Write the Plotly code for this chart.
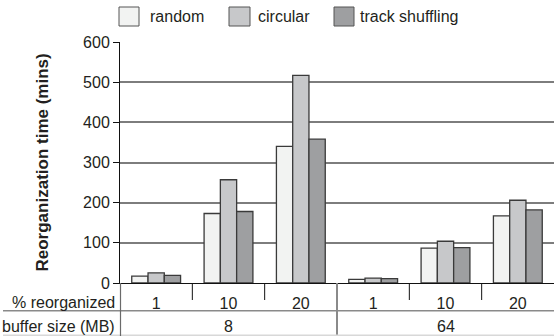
import plotly.graph_objects as go

# ---- data ----
buffer_sizes = ["8", "64"]
pct_reorganized = ["1", "10", "20"]
series_names = ["random", "circular", "track shuffling"]
random_vals = [17, 173, 340, 9, 87, 167]
circular_vals = [25, 257, 517, 12, 104, 206]
track_vals = [19, 178, 358, 11, 88, 182]
y_ticks = [0, 100, 200, 300, 400, 500, 600]

categories = [f"{b} MB | {p}%" for b in buffer_sizes for p in pct_reorganized]
tick_text = [p for b in buffer_sizes for p in pct_reorganized]

colors = ["#f2f3f2", "#c7c8ca", "#9e9fa1"]
FONT = "Liberation Sans, Arial, sans-serif"
TXT = "#231f20"

W, H = 554, 336
ML, MR, MT, MB = 120, 0, 42, 53
PW, PH = W - ML - MR, H - MT - MB


def px(x):
    return (x - ML) / PW


def py(y):
    return (H - MB - y) / PH


fig = go.Figure()
for name, vals, col in zip(series_names, [random_vals, circular_vals, track_vals], colors):
    fig.add_trace(go.Bar(
        x=categories, y=vals, name=name,
        marker=dict(color=col, line=dict(color="#3a3a3a", width=1.3)),
        showlegend=False,
    ))

shapes = []
annotations = []

# custom legend
leg_boxes = [(119, 139), (229, 250), (334, 354)]
leg_text_x = [148, 256, 358]
for (x0, x1), tx, name, col in zip(leg_boxes, leg_text_x, series_names, colors):
    shapes.append(dict(type="rect", xref="paper", yref="paper",
                       x0=px(x0), x1=px(x1), y0=py(26), y1=py(7),
                       fillcolor=col, line=dict(color="#555555", width=1)))
    annotations.append(dict(xref="paper", yref="paper", x=px(tx), y=py(16.5),
                            text=name, showarrow=False, xanchor="left", yanchor="middle",
                            font=dict(family=FONT, size=16, color=TXT)))

# y axis title
annotations.append(dict(xref="paper", yref="paper", x=px(41.5), y=py(163),
                        text="<b>Reorganization time (mins)</b>", textangle=-90,
                        showarrow=False, xanchor="center", yanchor="middle",
                        font=dict(family=FONT, size=17, color=TXT)))

# table row labels
annotations.append(dict(xref="paper", yref="paper", x=px(117), y=py(302),
                        text="% reorganized", showarrow=False, xanchor="right", yanchor="middle",
                        font=dict(family=FONT, size=16, color=TXT)))
annotations.append(dict(xref="paper", yref="paper", x=px(117), y=py(326),
                        text="buffer size (MB)", showarrow=False, xanchor="right", yanchor="middle",
                        font=dict(family=FONT, size=16, color=TXT)))

# buffer size labels, centred on the middle category of each group
for gi, b in enumerate(buffer_sizes):
    annotations.append(dict(xref="x", yref="paper", x=categories[gi * 3 + 1], y=py(326.5),
                            text=b, showarrow=False, xanchor="center", yanchor="middle",
                            font=dict(family=FONT, size=16, color=TXT)))

# separators between categories
n = len(categories)
for i in range(n - 1):
    if (i + 1) % len(pct_reorganized) == 0:
        shapes.append(dict(type="line", xref="x", yref="paper", x0=i + 0.5, x1=i + 0.5,
                           y0=py(283), y1=py(336), line=dict(color="#8a8a8a", width=2)))
    else:
        shapes.append(dict(type="line", xref="x", yref="paper", x0=i + 0.5, x1=i + 0.5,
                           y0=py(283), y1=py(300), line=dict(color="#111111", width=1)))

# table lines
shapes.append(dict(type="line", xref="paper", yref="paper", x0=px(3), x1=px(554),
                   y0=py(310.7), y1=py(310.7), line=dict(color="#8a8a8a", width=1.5)))
shapes.append(dict(type="line", xref="paper", yref="paper", x0=px(3), x1=px(554),
                   y0=py(335.3), y1=py(335.3), line=dict(color="#d8d8d8", width=1.5)))
shapes.append(dict(type="line", xref="paper", yref="paper", x0=px(120.5), x1=px(120.5),
                   y0=py(283), y1=py(336), line=dict(color="#6a6a6a", width=1.2)))

fig.update_layout(
    width=W, height=H,
    margin=dict(l=ML, r=MR, t=MT, b=MB, pad=0),
    paper_bgcolor="white", plot_bgcolor="white",
    barmode="group", bargap=0.325, bargroupgap=0,
    showlegend=False,
    font=dict(family=FONT, size=16, color=TXT),
    xaxis=dict(
        type="category", range=[-0.5, n - 0.5],
        tickvals=categories, ticktext=tick_text,
        ticks="", showgrid=False,
        showline=True, linecolor="#111111", linewidth=1,
        tickfont=dict(family=FONT, size=16, color=TXT),
        ticklabelstandoff=6,
        fixedrange=True,
    ),
    yaxis=dict(
        range=[0, 600], tickvals=y_ticks,
        showgrid=True, gridcolor="#7d7d7d", gridwidth=1.5,
        zeroline=False,
        showline=True, linecolor="#111111", linewidth=1,
        ticks="outside", ticklen=6, tickcolor="#111111", tickwidth=1,
        tickfont=dict(family=FONT, size=16, color=TXT),
        fixedrange=True,
    ),
    shapes=shapes,
    annotations=annotations,
)

fig.write_html(
    "out.html",
    config={"displayModeBar": False},
    post_script="document.body.style.margin='0';document.body.style.overflow='hidden';",
)
